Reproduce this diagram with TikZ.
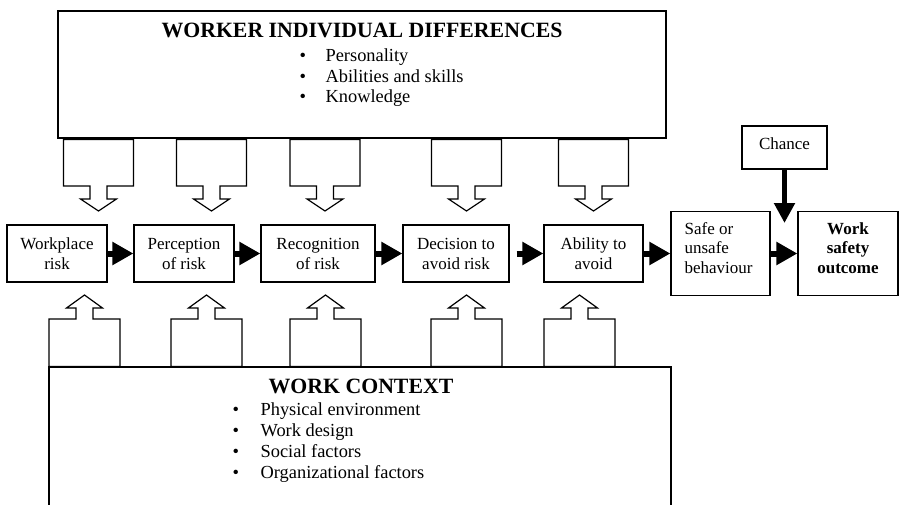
\documentclass[tikz,border=0pt]{standalone}
\usepackage{fontspec}
\setmainfont{Liberation Serif}
\usetikzlibrary{arrows.meta}

\newcommand{\fsz}[2]{\fontsize{#1}{#2}\selectfont}

\begin{document}
\begin{tikzpicture}[x=1pt,y=-1pt,line width=1.2pt,
  proc/.style={draw,align=center,inner sep=0pt,font=\fsz{17}{20}},
  plain/.style={align=center,inner sep=0pt,font=\fsz{17}{19.5}},
  bigbox/.style={draw,inner sep=0pt},
  title/.style={anchor=base,inner sep=0pt,font=\fsz{21.8}{26}\bfseries},
  item/.style={anchor=base west,inner sep=0pt,font=\fsz{18.4}{22}},
  flow/.style={line width=6pt,-{Triangle[length=21pt,width=22pt]}},
  blockarr/.style={draw,fill=white,line join=miter}]
\useasboundingbox (0,0) rectangle (899,504);
\clip (0,0) rectangle (899,504);
% arrows out of the worker box
\foreach \c in {98.5,211.5,325,466.5,593.5}
  \draw[blockarr] (\c-35,139.5) -- (\c-35,186) -- (\c-8.5,186) -- (\c-8.5,199)
    -- (\c-18,199) -- (\c,211) -- (\c+18,199) -- (\c+8.5,199) -- (\c+8.5,186)
    -- (\c+35,186) -- (\c+35,139.5) -- cycle;
% arrows out of the context box
\foreach \c in {84.5,206.5,325.5,466.5,579.5}
  \draw[blockarr] (\c-35.5,366.5) -- (\c-35.5,319) -- (\c-8.5,319) -- (\c-8.5,308)
    -- (\c-18,308) -- (\c,295) -- (\c+18,308) -- (\c+8.5,308) -- (\c+8.5,319)
    -- (\c+35.5,319) -- (\c+35.5,366.5) -- cycle;
% worker individual differences
\node[bigbox,minimum width=608pt,minimum height=127pt] (wid) at (362,74.5) {};
\node[title] (widtitle) at (362,37) {WORKER INDIVIDUAL DIFFERENCES};
\foreach \i/\y/\lab in {1/61.5/Personality,2/82/Abilities and skills,3/102.5/Knowledge}
  \node[item] (wid\i) at (299,\y) {\makebox[26pt][l]{\textbullet}\lab};
% work context
\node[bigbox,minimum width=622pt,minimum height=160pt] (wc) at (360,447) {};
\node[title] (wctitle) at (361,393) {WORK CONTEXT};
\foreach \i/\y/\lab in {1/415/Physical environment,2/436/Work design,3/457/Social factors,4/478.5/Organizational factors}
  \node[item] (wc\i) at (232,\y) {\makebox[28pt][l]{\textbullet}\lab};
% the chain
\node[proc,minimum width=100pt,minimum height=57pt] (wp) at (57,253.5) {Workplace\\risk};
\node[proc,minimum width=100pt,minimum height=57pt] (perc) at (184,253.5) {Perception\\of risk};
\node[proc,minimum width=114pt,minimum height=57pt] (recog) at (318,253.5) {Recognition\\of risk};
\node[proc,minimum width=106pt,minimum height=57pt] (dec) at (456,253.5) {Decision to\\avoid risk};
\node[proc,minimum width=99pt,minimum height=57pt] (abil) at (593.5,253.5) {Ability to\\avoid};
\node[proc,minimum width=99pt,minimum height=84pt] (beh) at (720.5,253.5) {};
\node[plain,align=left,anchor=west] (behtext) at (684,248) {Safe or\\unsafe\\behaviour};
\node[proc,minimum width=100pt,minimum height=84pt] (out) at (848,253.5) {};
\node[plain,font=\fsz{17}{19.5}\bfseries] (outtext) at (848,248) {Work\\safety\\outcome};
\node[proc,minimum width=85pt,minimum height=43pt] (chance) at (784.5,147.5) {};
\node[plain] (chancetext) at (784.5,143.5) {Chance};
\coordinate (chtip) at (784.5,223);
\draw[flow] (wp) -- (perc);
\draw[flow] (perc) -- (recog);
\draw[flow] (recog) -- (dec);
\draw[flow,shorten <=7pt] (dec) -- (abil);
\draw[flow] (abil) -- (beh);
\draw[flow] (beh) -- (out);
\draw[line width=5pt,-{Triangle[length=20pt,width=20pt]}] (chance) -- (chtip);
\end{tikzpicture}
\end{document}
